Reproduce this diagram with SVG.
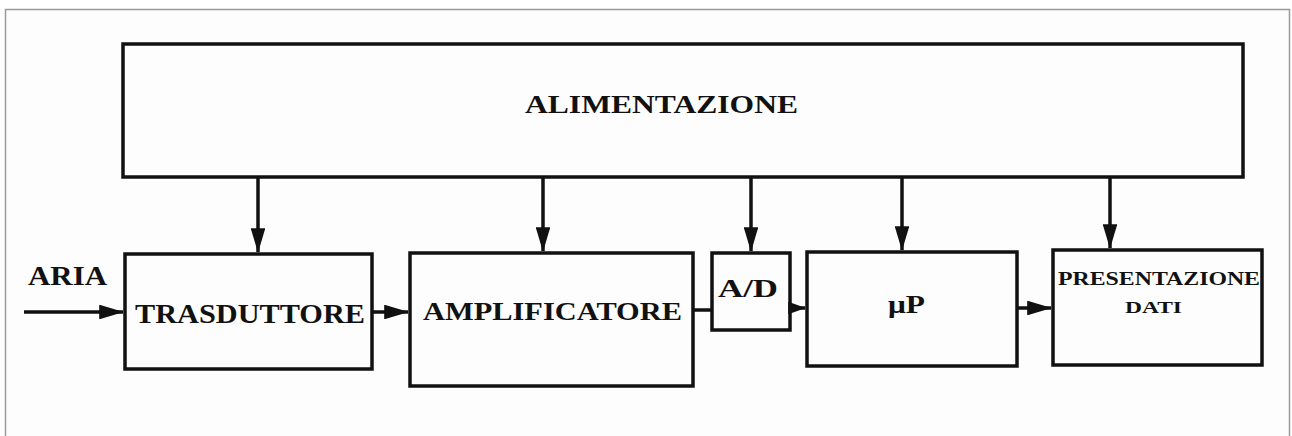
<svg xmlns="http://www.w3.org/2000/svg" width="1292" height="436" viewBox="0 0 1292 436">
<defs>
<style>
.box{fill:none;stroke:#111;stroke-width:3.5}
.ln{stroke:#111;stroke-width:3.5;fill:none}
.t{font-family:"Liberation Serif","DejaVu Serif",serif;font-weight:bold;fill:#111}
</style>
<marker id="ah" markerWidth="7" markerHeight="4.2" refX="6.8" refY="2.1" orient="auto" markerUnits="strokeWidth">
<path d="M0,0 L7,2.1 L0,4.2 Z" fill="#111"/>
</marker>
<marker id="ahs" markerWidth="5" markerHeight="3.6" refX="4.8" refY="1.8" orient="auto" markerUnits="strokeWidth">
<path d="M0,0 L5,1.8 L0,3.6 Z" fill="#111"/>
</marker>
</defs>
<rect x="0" y="0" width="1292" height="436" fill="#ffffff"/>
<rect x="5.5" y="9.5" width="1284" height="440" fill="#fdfdfd" stroke="#9a9a9a" stroke-width="1.5"/>
<g id="alimentazione">
<rect class="box" x="123" y="44" width="1120" height="133"/>
<text class="t" x="525" y="113" font-size="25" textLength="273" lengthAdjust="spacingAndGlyphs">ALIMENTAZIONE</text>
</g>
<g id="trasduttore">
<rect class="box" x="125" y="254" width="247" height="115"/>
<text class="t" x="135" y="323" font-size="27" textLength="230" lengthAdjust="spacingAndGlyphs">TRASDUTTORE</text>
</g>
<g id="amplificatore">
<rect class="box" x="410" y="253" width="283" height="133"/>
<text class="t" x="423" y="320" font-size="26" textLength="259" lengthAdjust="spacingAndGlyphs">AMPLIFICATORE</text>
</g>
<g id="ad">
<rect class="box" x="712" y="253" width="78" height="77"/>
<text class="t" x="718" y="297" font-size="25" textLength="60" lengthAdjust="spacingAndGlyphs">A/D</text>
</g>
<g id="up">
<rect class="box" x="807" y="252" width="210" height="114"/>
<text class="t" x="888" y="313" font-size="26" textLength="37" lengthAdjust="spacingAndGlyphs">μP</text>
</g>
<g id="presentazione">
<rect class="box" x="1053" y="250" width="209" height="115"/>
<text class="t" x="1058" y="285" font-size="18" textLength="202" lengthAdjust="spacingAndGlyphs">PRESENTAZIONE</text>
<text class="t" x="1125" y="313" font-size="17" textLength="57" lengthAdjust="spacingAndGlyphs">DATI</text>
</g>
<g id="aria">
<text class="t" x="28" y="285" font-size="27" textLength="79" lengthAdjust="spacingAndGlyphs">ARIA</text>
</g>
<g id="connectors">
<line class="ln" x1="258" y1="177" x2="258" y2="252" marker-end="url(#ah)"/>
<line class="ln" x1="543" y1="177" x2="543" y2="251" marker-end="url(#ah)"/>
<line class="ln" x1="751" y1="177" x2="751" y2="251" marker-end="url(#ah)"/>
<line class="ln" x1="902" y1="177" x2="902" y2="250" marker-end="url(#ah)"/>
<line class="ln" x1="1110" y1="177" x2="1110" y2="248" marker-end="url(#ah)"/>
<line class="ln" x1="24" y1="312" x2="123" y2="312" marker-end="url(#ah)"/>
<line class="ln" x1="372" y1="312" x2="408" y2="312" marker-end="url(#ah)"/>
<line class="ln" x1="693" y1="310" x2="712" y2="310"/>
<line class="ln" x1="790" y1="308" x2="805" y2="308" marker-end="url(#ahs)"/>
<line class="ln" x1="1017" y1="308" x2="1051" y2="308" marker-end="url(#ah)"/>
</g>
</svg>
